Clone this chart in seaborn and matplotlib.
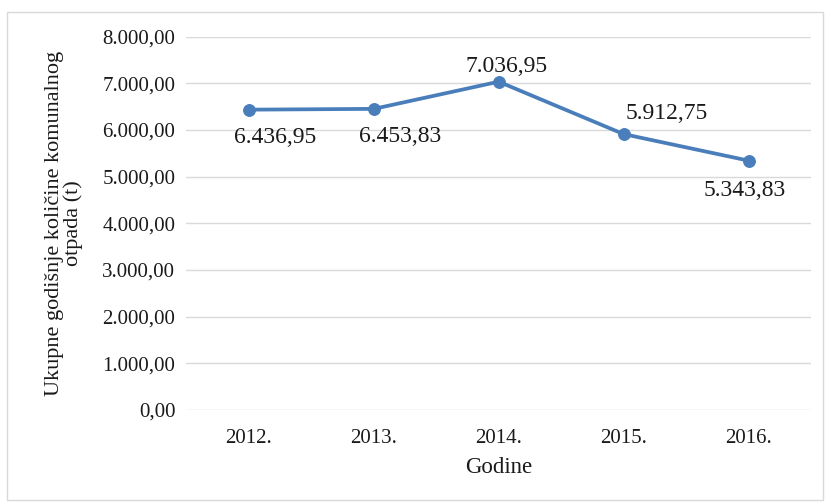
import matplotlib
matplotlib.use("Agg")
import matplotlib.pyplot as plt
import matplotlib.patches as patches
from matplotlib.ticker import FuncFormatter
import seaborn as sns
import pandas as pd

# podaci
godine = ['2012.', '2013.', '2014.', '2015.', '2016.']
kolicine = [6436.95, 6453.83, 7036.95, 5912.75, 5343.83]
# pomak oznaka (pikseli) kao na originalu
pomak_x = [26, 26, 8, 43, -4]
pomak_y = [-28, -28, 15, 21, -30]

df = pd.DataFrame({'Godine': godine, 'Kolicina': kolicine})

sns.set_style("white")
plt.rcParams['font.family'] = ['Liberation Serif', 'DejaVu Serif']


def hr_format(v, pos=None):
    s = f"{v:,.2f}"
    return s.replace(',', 'X').replace('.', ',').replace('X', '.')


fig = plt.figure(figsize=(8.25, 5.04), dpi=100)
ax = fig.add_axes([0.226, 0.187, 0.757, 0.74])

plava = '#4A7EBB'
sns.lineplot(data=df, x='Godine', y='Kolicina', ax=ax, sort=False,
             color=plava, linewidth=2.7, marker='o', markersize=8.5,
             markeredgecolor=plava)

for i, v in enumerate(kolicine):
    ax.annotate(hr_format(v), (i, v), xytext=(pomak_x[i], pomak_y[i]),
                textcoords='offset pixels', ha='center', va='center',
                fontsize=17, color='#1a1a1a')

ax.set_xlim(-0.5, 4.5)
ax.set_ylim(0, 8000)
ax.set_yticks(range(0, 8001, 1000))
ax.yaxis.set_major_formatter(FuncFormatter(hr_format))
ax.grid(axis='y', color='#D9D9D9', linewidth=1)
ax.set_axisbelow(True)
for s in ax.spines.values():
    s.set_visible(False)
ax.tick_params(axis='both', length=0, labelsize=15, colors='#1a1a1a')
ax.tick_params(axis='y', pad=8)
ax.tick_params(axis='x', pad=14)

ax.set_xlabel('Godine', fontsize=16.5, color='#1a1a1a', labelpad=6)
ax.set_ylabel('Ukupne godišnje količine komunalnog\notpada (t)',
              fontsize=16, color='#1a1a1a', labelpad=14, linespacing=0.95)

fig.patches.append(patches.Rectangle((0.009, 0.008), 0.988, 0.968,
                                     transform=fig.transFigure, fill=False,
                                     edgecolor='#D9D9D9', linewidth=1))

plt.savefig('out.png', dpi=100)
